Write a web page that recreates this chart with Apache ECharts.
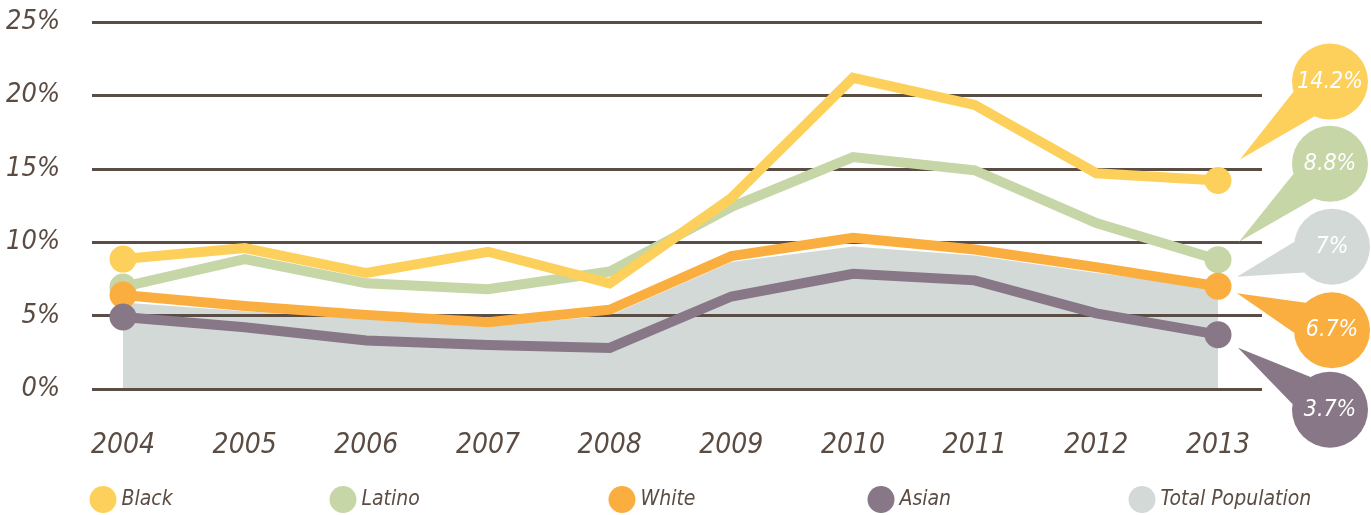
<!DOCTYPE html>
<html>
<head>
<meta charset="utf-8">
<script src="https://cdn.jsdelivr.net/npm/echarts@6/dist/echarts.min.js"></script>
<style>
html,body{margin:0;padding:0;background:#fff;}
#chart{width:1371px;height:515px;}
</style>
</head>
<body>
<div id="chart"></div>
<script>
// ---- data ----
const years = ['2004','2005','2006','2007','2008','2009','2010','2011','2012','2013'];
const black  = [8.85, 9.6, 7.9, 9.35, 7.2, 13.0, 21.2, 19.35, 14.7, 14.2];
const latino = [6.95, 8.85, 7.2, 6.8, 8.0, 12.4, 15.8, 14.9, 11.3, 8.8];
const white  = [6.4, 5.65, 5.05, 4.55, 5.4, 9.05, 10.3, 9.5, 8.3, 7.0];
const asian  = [4.9, 4.2, 3.3, 3.0, 2.8, 6.3, 7.85, 7.4, 5.15, 3.7];
const total  = [5.9, 5.3, 4.8, 4.3, 5.0, 8.65, 9.7, 9.1, 7.9, 6.9];
const yTicks = [0, 5, 10, 15, 20, 25];
const calloutNames  = ['Black', 'Latino', 'Total Population', 'White', 'Asian'];
const calloutLabels = ['14.2%', '8.8%', '7%', '6.7%', '3.7%'];

// ---- style ----
const FONT = '"Liberation Sans Narrow","DejaVu Sans Condensed","Roboto",sans-serif';
const TXT = '#5b4c43';
const colors = {
  'Black': '#fcd05a',
  'Latino': '#c6d6a6',
  'White': '#fbae40',
  'Asian': '#877787',
  'Total Population': '#d3d9d6'
};
const seriesData = {
  'Black': black, 'Latino': latino, 'White': white, 'Asian': asian, 'Total Population': total
};
// bubble layout relative to the data point: circle centre and tail tip
const calloutLayout = [
  { c: [112, -99], t: [22, -21] },
  { c: [112, -96], t: [21, -18] },
  { c: [114, -41], t: [19, -11] },
  { c: [114, 44],  t: [19, 7] },
  { c: [112, 75],  t: [20, 13] }
];
const R = 38;
const last = years.length - 1;

function lineSeries(name, z) {
  return {
    name: name,
    type: 'line',
    xAxisIndex: 1, yAxisIndex: 1,
    data: seriesData[name],
    z: z,
    symbol: 'circle',
    showAllSymbol: true,
    symbolSize: function (v, p) { return (p.dataIndex === 0 || p.dataIndex === last) ? 27 : 0; },
    itemStyle: { color: colors[name] },
    lineStyle: { color: colors[name], width: 10, join: 'miter' },
    emphasis: { disabled: true },
    animation: false
  };
}

const calloutData = calloutNames.map(function (n, i) {
  return { value: [last, seriesData[n][last]], label: calloutLabels[i], color: colors[n] };
});

const legendLefts = [84.5, 324.5, 603.5, 862.5, 1123.5];
const legendNames = ['Black', 'Latino', 'White', 'Asian', 'Total Population'];

const option = {
  backgroundColor: '#fff',
  animation: false,
  legend: legendNames.map(function (n, i) {
    return {
      data: [n],
      left: legendLefts[i],
      top: 481,
      icon: 'circle',
      itemWidth: 27, itemHeight: 27,
      selectedMode: false,
      textStyle: { color: TXT, fontSize: 21, fontStyle: 'italic', fontFamily: FONT }
    };
  }),
  grid: [
    { left: 92, right: 109, top: 22, bottom: 126 },
    { left: 123, right: 153, top: 22, bottom: 126 }
  ],
  xAxis: [
    { gridIndex: 0, type: 'value', min: 0, max: 1, show: false },
    {
      gridIndex: 1, type: 'category', data: years, boundaryGap: false,
      axisLine: { show: false }, axisTick: { show: false }, splitLine: { show: false },
      axisLabel: { color: TXT, fontSize: 28, fontStyle: 'italic', fontFamily: FONT, margin: 43 }
    }
  ],
  yAxis: [
    {
      gridIndex: 0, type: 'value', min: yTicks[0], max: yTicks[yTicks.length - 1], interval: 5, z: 2,
      axisLine: { show: false }, axisTick: { show: false },
      splitLine: { lineStyle: { color: '#5a4d45', width: 3 } },
      axisLabel: { color: TXT, fontSize: 27, fontStyle: 'italic', fontFamily: FONT, margin: 32, formatter: '{value}%' }
    },
    { gridIndex: 1, type: 'value', min: 0, max: 25, show: false }
  ],
  series: [
    {
      name: 'Total Population', type: 'line', xAxisIndex: 1, yAxisIndex: 1,
      data: total, z: 1, symbol: 'none',
      itemStyle: { color: colors['Total Population'] },
      lineStyle: { width: 0 },
      areaStyle: { color: colors['Total Population'], opacity: 1 },
      emphasis: { disabled: true }
    },
    lineSeries('Latino', 3),
    lineSeries('Black', 4),
    lineSeries('White', 5),
    lineSeries('Asian', 6),
    {
      name: 'callouts', type: 'custom', xAxisIndex: 1, yAxisIndex: 1, z: 10, clip: false,
      data: calloutData,
      renderItem: function (params, api) {
        const i = params.dataIndex;
        const d = calloutData[i];
        const L = calloutLayout[i];
        const p = api.coord([api.value(0), api.value(1)]);
        const cx = p[0] + L.c[0], cy = p[1] + L.c[1];
        const tx = p[0] + L.t[0], ty = p[1] + L.t[1];
        const a = Math.atan2(ty - cy, tx - cx);
        const h = 0.44;
        const b1 = [cx + R * Math.cos(a - h), cy + R * Math.sin(a - h)];
        const b2 = [cx + R * Math.cos(a + h), cy + R * Math.sin(a + h)];
        return {
          type: 'group',
          children: [
            { type: 'polygon', shape: { points: [[tx, ty], b1, b2] }, style: { fill: d.color } },
            { type: 'circle', shape: { cx: cx, cy: cy, r: R }, style: { fill: d.color } },
            { type: 'text', style: { text: d.label, x: cx, y: cy, fill: '#fff', fontSize: 23, fontStyle: 'italic', fontFamily: FONT, align: 'center', verticalAlign: 'middle' } }
          ]
        };
      }
    }
  ]
};

const chart = echarts.init(document.getElementById('chart'), null, { renderer: 'canvas' });
chart.setOption(option);
</script>
</body>
</html>
